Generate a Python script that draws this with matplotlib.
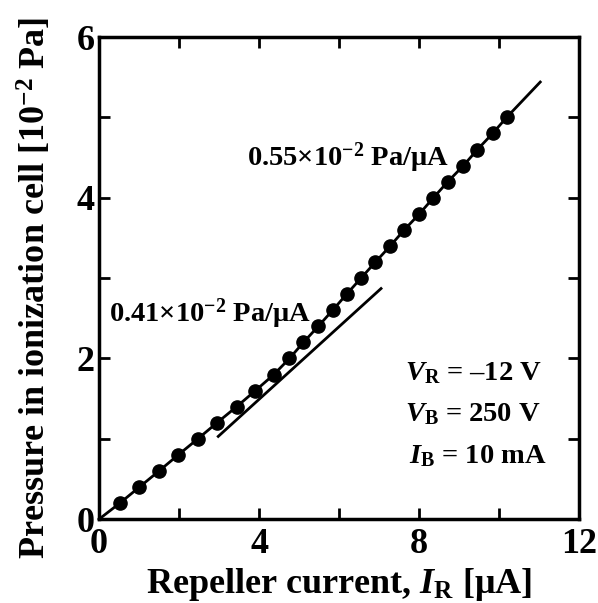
import matplotlib
matplotlib.use("Agg")
import matplotlib.pyplot as plt
import numpy as np

plt.rcParams['font.family'] = ['Liberation Serif', 'DejaVu Serif']
plt.rcParams['font.weight'] = 'bold'
plt.rcParams['mathtext.fontset'] = 'custom'
plt.rcParams['mathtext.rm'] = 'Liberation Serif:bold'
plt.rcParams['mathtext.bf'] = 'Liberation Serif:bold'
plt.rcParams['mathtext.it'] = 'Liberation Serif:italic:bold'

# measured points
current = [0.52, 1.01, 1.50, 1.98, 2.47, 2.95, 3.44, 3.91, 4.37, 4.76,
           5.11, 5.48, 5.84, 6.19, 6.55, 6.91, 7.28, 7.63, 8.01, 8.36,
           8.72, 9.11, 9.46, 9.84, 10.19]
pressure = [0.2, 0.4, 0.6, 0.8, 1.0, 1.2, 1.4, 1.6, 1.8, 2.0,
            2.2, 2.4, 2.6, 2.8, 3.0, 3.2, 3.4, 3.6, 3.8, 4.0,
            4.2, 4.4, 4.6, 4.8, 5.0]

# fitted curve end points (extension beyond data)
curve_start = (0.0, 0.0)
curve_end = (11.03, 5.44)

# tangent line, 0.41e-2 Pa/uA
tangent_x = [2.98, 7.05]
tangent_y = [1.03, 2.87]

fig = plt.figure(figsize=(5.98, 6.03), dpi=100)
ax = fig.add_axes([0.1656, 0.139, 0.8027, 0.7996])

cx = [curve_start[0]] + current + [curve_end[0]]
cy = [curve_start[1]] + pressure + [curve_end[1]]
ax.plot(cx, cy, color='black', lw=2.0, clip_on=False)
ax.plot(tangent_x, tangent_y, color='black', lw=2.0)
ax.plot(current, pressure, 'o', color='black', ms=9.5)

ax.set_xlim(0, 12)
ax.set_ylim(0, 6)
ax.set_xticks([0, 4, 8, 12])
ax.set_xticks([2, 6, 10], minor=True)
ax.set_yticks([0, 2, 4, 6])
ax.set_yticks([1, 3, 5], minor=True)
ax.tick_params(which='both', direction='in', top=True, right=True,
               length=8, width=2, labelsize=26)
ax.tick_params(axis='x', pad=6)
ax.tick_params(axis='y', pad=3)
for lab in ax.get_xticklabels() + ax.get_yticklabels():
    lab.set_fontweight('bold')
for s in ax.spines.values():
    s.set_linewidth(2.5)

ax.set_xlabel(r'Repeller current, $\mathit{I}_{\mathrm{R}}$ [$\mathrm{\mu}$A]',
              fontsize=26, fontweight='bold', labelpad=4)
ax.set_ylabel(r'Pressure in ionization cell [10$^{-2}$ Pa]',
              fontsize=26, fontweight='bold', va='center')
ax.yaxis.set_label_coords(-0.133, 0.48)

ax.text(3.69, 4.5, r'0.55$\times$10$^{-2}$ Pa/$\mathrm{\mu}$A',
        fontsize=20.5, fontweight='bold', va='center', ha='left')
ax.text(0.25, 2.56, r'0.41$\times$10$^{-2}$ Pa/$\mathrm{\mu}$A',
        fontsize=20.5, fontweight='bold', va='center', ha='left')

ax.text(7.65, 1.82, r'$\mathit{V}_{\mathrm{R}}$ = –12 V',
        fontsize=20.5, fontweight='bold', va='center', ha='left')
ax.text(7.65, 1.31, r'$\mathit{V}_{\mathrm{B}}$ = 250 V',
        fontsize=20.5, fontweight='bold', va='center', ha='left')
ax.text(7.75, 0.79, r'$\mathit{I}_{\mathrm{B}}$ = 10 mA',
        fontsize=20.5, fontweight='bold', va='center', ha='left')

fig.savefig('out.png', dpi=100)
